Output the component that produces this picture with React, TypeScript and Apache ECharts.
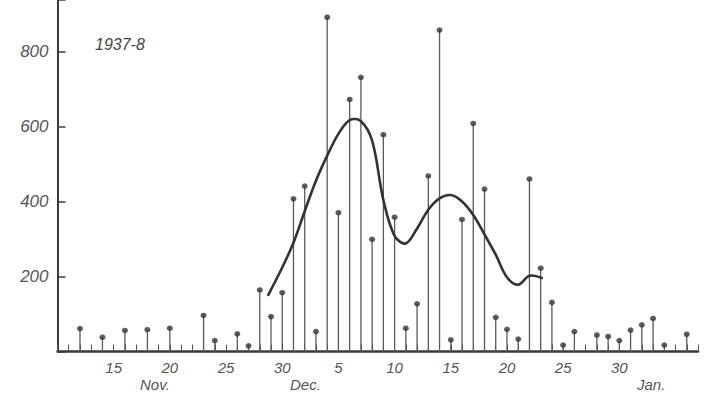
import React, { useEffect, useRef } from "react";
import * as echarts from "echarts";

// x = days after 10 Nov 1937 (Nov 15 = 5, Dec 5 = 25, Jan 5 = 56)
const stemDays = [2, 4, 6, 8, 10, 13, 14, 16, 17, 18, 19, 20, 21, 22, 23, 24, 25, 26, 27, 28, 29, 30, 31, 32, 33, 34, 35, 36, 37, 38, 39, 40, 41, 42, 43, 44, 45, 46, 48, 49, 50, 51, 52, 53, 54, 56];
const stemValues = [61, 38, 56, 58, 62, 96, 29, 47, 15, 164, 93, 157, 407, 441, 53, 891, 370, 672, 731, 299, 578, 358, 62, 127, 468, 857, 31, 352, 608, 433, 91, 59, 33, 460, 222, 131, 17, 53, 44, 40, 29, 57, 71, 88, 17, 46];

const curveDays = [18.76, 20, 21, 22, 23, 24, 25, 26, 27, 28, 29, 30, 31, 32, 33, 34, 35, 36, 37, 38, 39, 40, 41, 42, 43.1];
const curveValues = [151, 224, 290, 374, 455, 522, 580, 617, 614, 562, 404, 308, 288, 328, 378, 408, 417, 400, 364, 312, 258, 198, 178, 202, 196];

const xTickLabels: Record<number, string> = { 5: "15", 10: "20", 15: "25", 20: "30", 25: "5", 30: "10", 35: "15", 40: "20", 45: "25", 50: "30" };
const yTickLabels = [200, 400, 600, 800];
const monthLabels = [
  { text: "Nov.", left: 140 },
  { text: "Dec.", left: 290 },
  { text: "Jan.", left: 637 },
];
const title = "1937-8";

const INK = "#3a3a3a";
const FONT = "'Liberation Sans', 'DejaVu Sans', sans-serif";

export default function App() {
  const ref = useRef<HTMLDivElement>(null);
  useEffect(() => {
    if (!ref.current) return;
    const chart = echarts.init(ref.current, undefined, { renderer: "svg" });
    const stemData = stemDays.map((d, i) => [d, stemValues[i]]);
    const curveData = curveDays.map((d, i) => [d, curveValues[i]]);
    chart.setOption({
      animation: false,
      backgroundColor: "#ffffff",
      grid: { left: 57.5, right: 7, top: 0, bottom: 52.5, containLabel: false },
      xAxis: {
        type: "value",
        min: 0,
        max: 57,
        interval: 1,
        splitLine: { show: false },
        axisLine: { show: true, lineStyle: { color: INK, width: 2.5 } },
        axisTick: { show: true, inside: true, length: 7, lineStyle: { color: "#555", width: 1 } },
        axisLabel: {
          show: true,
          margin: 8,
          color: "#555",
          fontSize: 15,
          fontStyle: "italic",
          fontFamily: FONT,
          formatter: (v: number) => xTickLabels[v] ?? "",
        },
      },
      yAxis: {
        type: "value",
        min: 0,
        max: 937,
        interval: 200,
        splitLine: { show: false },
        axisLine: { show: true, lineStyle: { color: INK, width: 2 } },
        axisTick: { show: true, inside: true, length: 8, lineStyle: { color: INK, width: 1.5 } },
        axisLabel: {
          show: true,
          margin: 9,
          color: "#555",
          fontSize: 17,
          fontStyle: "italic",
          fontFamily: FONT,
          verticalAlign: "middle",
          formatter: (v: number) => (yTickLabels.includes(v) ? String(v) : ""),
        },
      },
      series: [
        {
          type: "custom",
          data: stemData,
          encode: { x: 0, y: 1 },
          renderItem: (params: any, api: any) => {
            const p0 = api.coord([api.value(0), 0]);
            const p1 = api.coord([api.value(0), api.value(1)]);
            return {
              type: "line",
              shape: { x1: p0[0], y1: p0[1], x2: p1[0], y2: p1[1] },
              style: { stroke: "#5a5a5a", lineWidth: 1.3 },
            };
          },
          z: 2,
        },
        {
          type: "scatter",
          data: stemData,
          symbol: "circle",
          symbolSize: [6, 5.5],
          itemStyle: { color: "#333" },
          z: 3,
        },
        {
          type: "custom",
          data: curveData,
          encode: { x: 0, y: 1 },
          renderItem: (params: any, api: any) => {
            if (params.dataIndex !== 0) return null;
            const pts = curveData.map((p) => api.coord(p));
            return {
              type: "polyline",
              shape: { points: pts, smooth: 0.35 },
              style: { stroke: "#333", lineWidth: 2.6, fill: "none", lineJoin: "round", lineCap: "round" },
            };
          },
          z: 4,
        },
      ],
      graphic: [
        {
          type: "text",
          left: 95,
          top: 36,
          style: { text: title, fill: "#444", font: `italic 16px ${FONT}` },
        },
        ...monthLabels.map((m) => ({
          type: "text",
          left: m.left,
          top: 377,
          style: { text: m.text, fill: "#555", font: `italic 15px ${FONT}` },
        })),
      ],
    });
    return () => chart.dispose();
  }, []);
  return (
    <div
      ref={ref}
      style={{ position: "fixed", left: 0, top: 0, width: 705, height: 404, background: "#fff" }}
    />
  );
}
